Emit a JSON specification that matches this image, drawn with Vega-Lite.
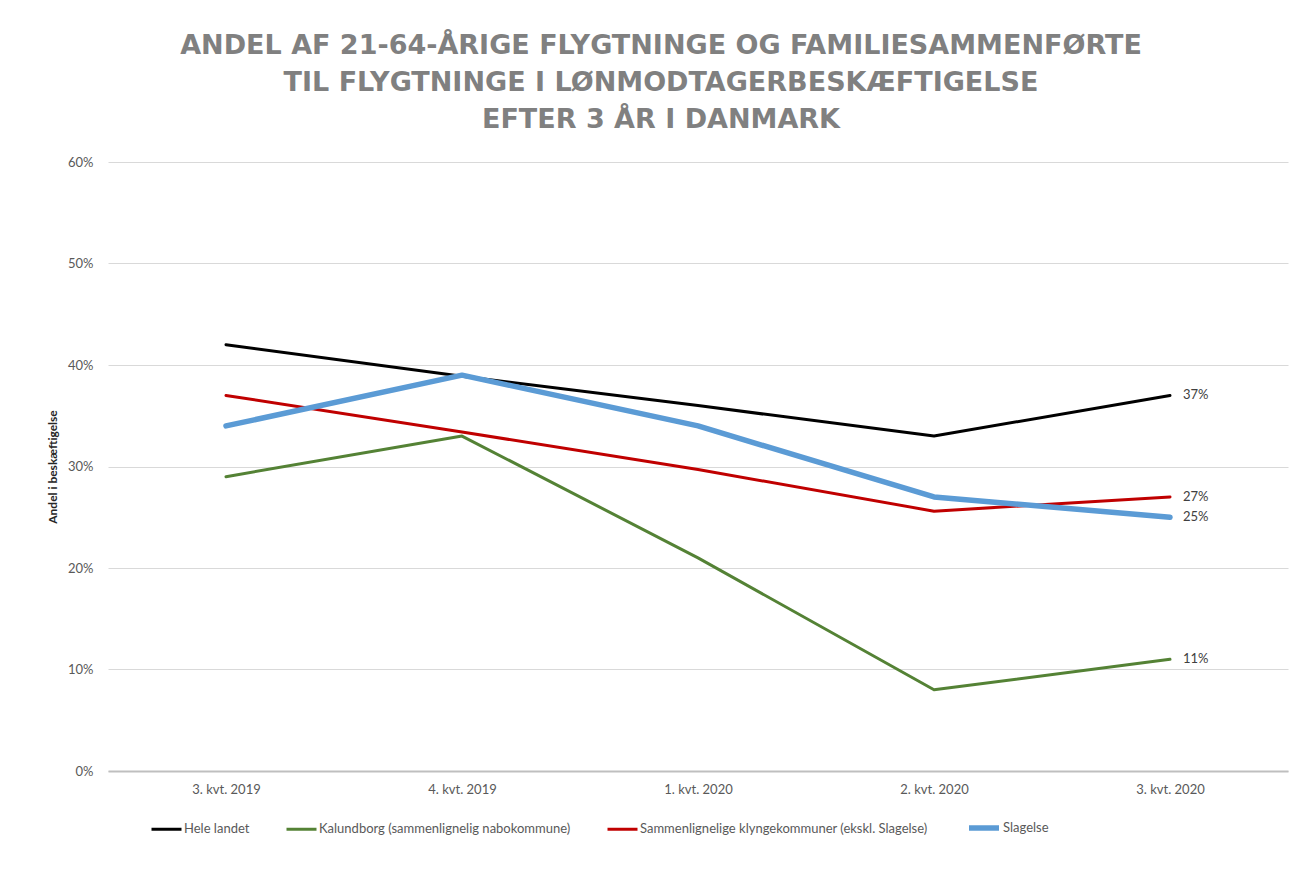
{
  "$schema": "https://vega.github.io/schema/vega-lite/v6.json",
  "width": 1180,
  "height": 609,
  "autosize": {"type": "none"},
  "padding": {"left": 108, "top": 162, "right": 16, "bottom": 103},
  "background": "white",
  "title": {
    "text": ["ANDEL AF 21-64-ÅRIGE FLYGTNINGE OG FAMILIESAMMENFØRTE", "TIL FLYGTNINGE I LØNMODTAGERBESKÆFTIGELSE", "EFTER 3 ÅR I DANMARK"],
    "font": "DejaVu Sans",
    "fontSize": 27,
    "fontWeight": "bold",
    "color": "#808080",
    "lineHeight": 37,
    "anchor": "middle",
    "frame": "group",
    "dx": -37,
    "offset": 22
  },
  "data": {
    "values": [
      {"kvartal": "3. kvt. 2019", "serie": "Hele landet", "andel": 0.42},
      {"kvartal": "4. kvt. 2019", "serie": "Hele landet", "andel": 0.389},
      {"kvartal": "1. kvt. 2020", "serie": "Hele landet", "andel": 0.36},
      {"kvartal": "2. kvt. 2020", "serie": "Hele landet", "andel": 0.33},
      {"kvartal": "3. kvt. 2020", "serie": "Hele landet", "andel": 0.37},
      {"kvartal": "3. kvt. 2019", "serie": "Kalundborg (sammenlignelig nabokommune)", "andel": 0.29},
      {"kvartal": "4. kvt. 2019", "serie": "Kalundborg (sammenlignelig nabokommune)", "andel": 0.33},
      {"kvartal": "1. kvt. 2020", "serie": "Kalundborg (sammenlignelig nabokommune)", "andel": 0.21},
      {"kvartal": "2. kvt. 2020", "serie": "Kalundborg (sammenlignelig nabokommune)", "andel": 0.08},
      {"kvartal": "3. kvt. 2020", "serie": "Kalundborg (sammenlignelig nabokommune)", "andel": 0.11},
      {"kvartal": "3. kvt. 2019", "serie": "Sammenlignelige klyngekommuner (ekskl. Slagelse)", "andel": 0.37},
      {"kvartal": "4. kvt. 2019", "serie": "Sammenlignelige klyngekommuner (ekskl. Slagelse)", "andel": 0.334},
      {"kvartal": "1. kvt. 2020", "serie": "Sammenlignelige klyngekommuner (ekskl. Slagelse)", "andel": 0.297},
      {"kvartal": "2. kvt. 2020", "serie": "Sammenlignelige klyngekommuner (ekskl. Slagelse)", "andel": 0.256},
      {"kvartal": "3. kvt. 2020", "serie": "Sammenlignelige klyngekommuner (ekskl. Slagelse)", "andel": 0.27},
      {"kvartal": "3. kvt. 2019", "serie": "Slagelse", "andel": 0.34},
      {"kvartal": "4. kvt. 2019", "serie": "Slagelse", "andel": 0.39},
      {"kvartal": "1. kvt. 2020", "serie": "Slagelse", "andel": 0.34},
      {"kvartal": "2. kvt. 2020", "serie": "Slagelse", "andel": 0.27},
      {"kvartal": "3. kvt. 2020", "serie": "Slagelse", "andel": 0.25}
    ]
  },
  "encoding": {
    "x": {
      "field": "kvartal",
      "type": "ordinal",
      "sort": ["3. kvt. 2019", "4. kvt. 2019", "1. kvt. 2020", "2. kvt. 2020", "3. kvt. 2020"],
      "scale": {"type": "point", "padding": 0.5},
      "axis": {
        "title": null,
        "labelAngle": 0,
        "labelFont": "Lato",
        "labelFontSize": 13,
        "labelColor": "#595959",
        "labelPadding": 12,
        "ticks": false,
        "domainColor": "#BFBFBF",
        "domainWidth": 2,
        "grid": false
      }
    },
    "y": {
      "field": "andel",
      "type": "quantitative",
      "scale": {"domain": [0, 0.6]},
      "axis": {
        "title": "Andel i beskæftigelse",
        "titleFont": "Lato",
        "titleFontSize": 12,
        "titleFontWeight": "bold",
        "titleColor": "#262626",
        "titlePadding": 8,
        "format": ".0%",
        "values": [0, 0.1, 0.2, 0.3, 0.4, 0.5, 0.6],
        "labelFont": "Lato",
        "labelFontSize": 13,
        "labelColor": "#595959",
        "labelPadding": 15,
        "ticks": false,
        "domain": false,
        "gridColor": "#D9D9D9",
        "gridWidth": 1
      }
    }
  },
  "layer": [
    {
      "mark": {"type": "line", "strokeCap": "round", "strokeJoin": "round"},
      "encoding": {
        "color": {
          "field": "serie",
          "type": "nominal",
          "title": null,
          "scale": {
            "domain": ["Hele landet", "Kalundborg (sammenlignelig nabokommune)", "Sammenlignelige klyngekommuner (ekskl. Slagelse)", "Slagelse"],
            "range": ["#000000", "#548235", "#C00000", "#5B9BD5"]
          },
          "legend": {
            "orient": "none",
            "legendX": 42,
            "legendY": 648,
            "direction": "horizontal",
            "symbolType": "stroke",
            "symbolSize": 900,
            "labelFont": "Lato",
            "labelFontSize": 13,
            "labelColor": "#595959",
            "labelLimit": 0,
            "labelOffset": 1,
            "columnPadding": 30
          }
        },
        "strokeWidth": {
          "field": "serie",
          "type": "nominal",
          "title": null,
          "scale": {
            "type": "ordinal",
            "domain": ["Hele landet", "Kalundborg (sammenlignelig nabokommune)", "Sammenlignelige klyngekommuner (ekskl. Slagelse)", "Slagelse"],
            "range": [3, 3, 3, 5.5]
          }
        }
      }
    },
    {
      "transform": [{"filter": "datum.kvartal === '3. kvt. 2020'"}],
      "mark": {"type": "text", "align": "left", "baseline": "middle", "dx": 13, "font": "Lato", "fontSize": 13, "color": "#404040"},
      "encoding": {
        "text": {"field": "andel", "type": "quantitative", "format": ".0%"}
      }
    }
  ],
  "config": {
    "view": {"stroke": null}
  }
}
